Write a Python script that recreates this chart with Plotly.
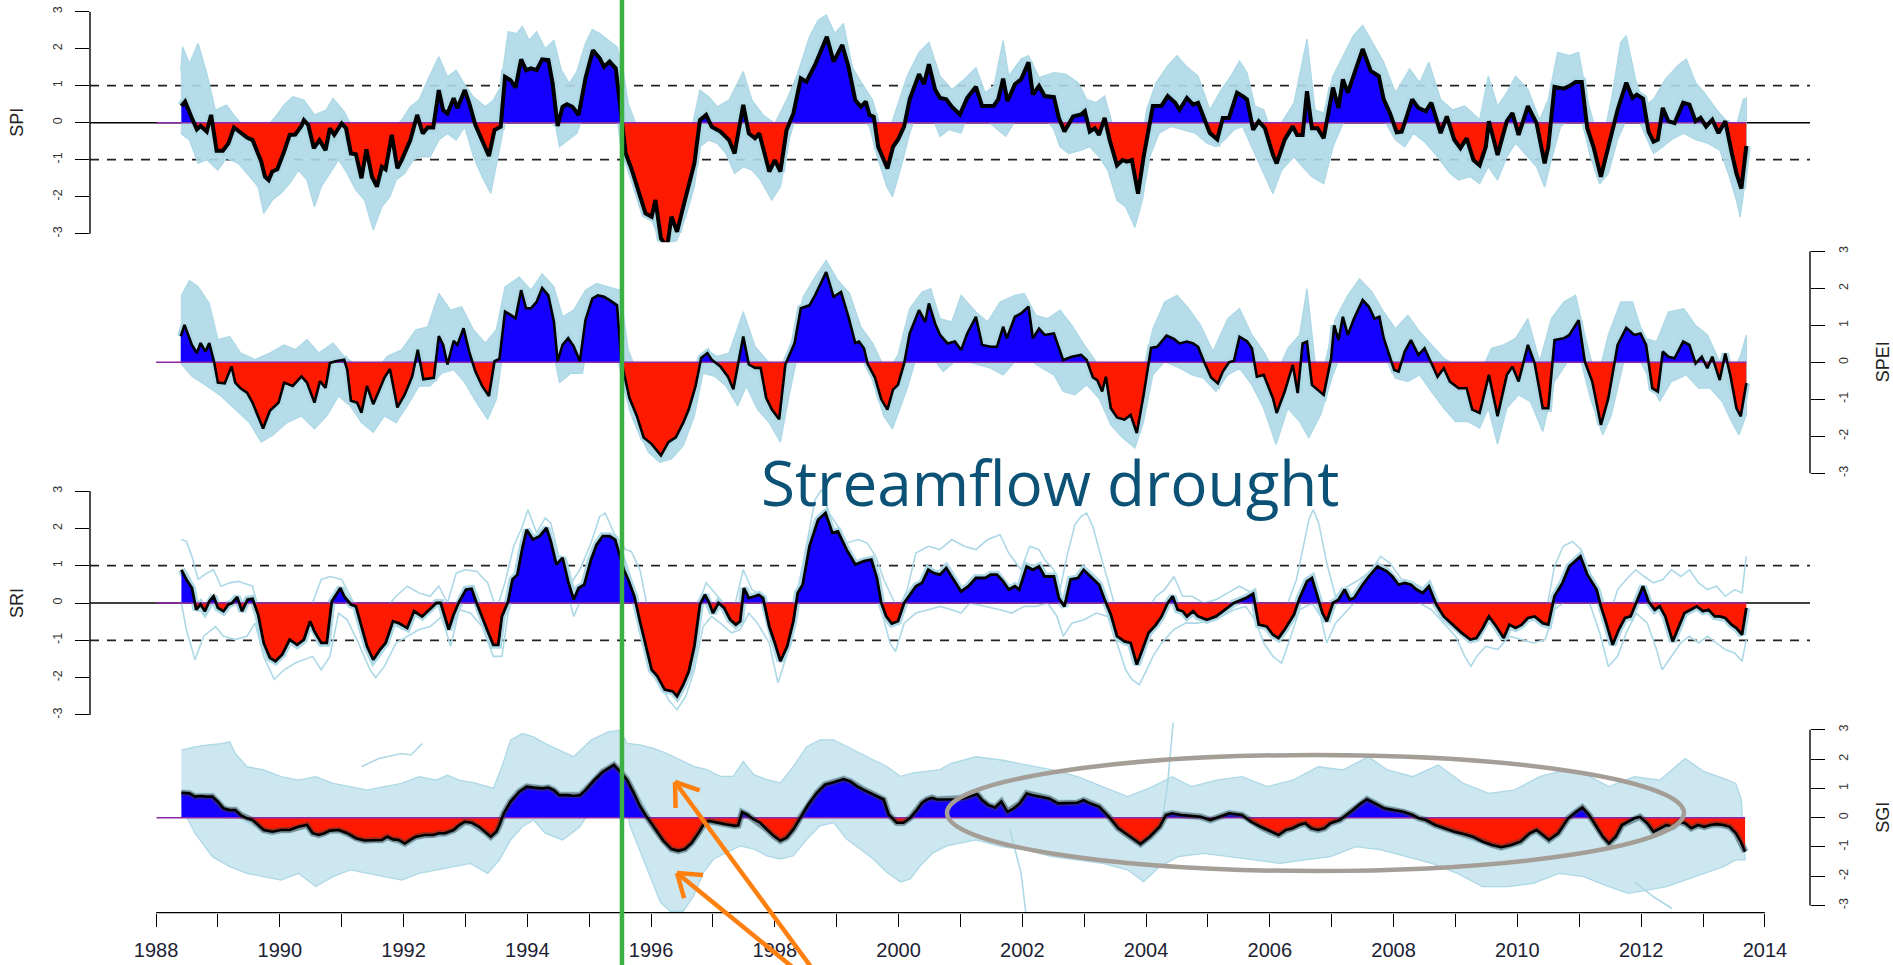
import math
import plotly.graph_objects as go

W, H = 1893, 965

# ---------------- index series (year, value) ----------------
spi = [(1988.41,0.45),(1988.47,0.57),(1988.58,0.12),(1988.66,-0.18),(1988.72,-0.09),(1988.82,-0.24),(1988.89,0.21),(1988.98,-0.76),(1989.08,-0.76),(1989.17,-0.56),
(1989.26,-0.13),(1989.37,-0.27),(1989.47,-0.40),(1989.56,-0.47),(1989.70,-1.05),(1989.76,-1.46),(1989.82,-1.55),(1989.88,-1.32),(1989.96,-1.26),(1990.07,-0.78),
(1990.16,-0.33),(1990.25,-0.32),(1990.35,-0.09),(1990.39,0.07),(1990.46,-0.06),(1990.55,-0.69),(1990.64,-0.47),(1990.74,-0.74),(1990.81,-0.15),(1990.88,-0.33),
(1991.00,-0.02),(1991.07,-0.15),(1991.15,-0.83),(1991.23,-0.85),(1991.32,-1.50),(1991.40,-0.72),(1991.49,-1.46),(1991.57,-1.73),(1991.65,-1.19),(1991.71,-1.26),
(1991.81,-0.33),(1991.90,-1.23),(1991.97,-1.01),(1992.11,-0.47),(1992.22,0.21),(1992.31,-0.29),(1992.39,-0.13),(1992.48,-0.13),(1992.57,0.88),(1992.64,0.34),
(1992.71,0.25),(1992.81,0.66),(1992.87,0.39),(1992.99,0.88),(1993.07,0.48),(1993.16,-0.06),(1993.27,-0.51),(1993.38,-0.90),(1993.47,-0.20),(1993.57,-0.11),
(1993.64,1.24),(1993.73,1.15),(1993.81,0.95),(1993.90,1.71),(1993.98,1.42),(1994.06,1.47),(1994.15,1.42),(1994.24,1.71),(1994.34,1.69),(1994.41,1.06),
(1994.49,-0.09),(1994.57,0.43),(1994.64,0.50),(1994.73,0.43),(1994.83,0.21),(1994.94,1.20),(1995.06,1.96),(1995.17,1.74),(1995.24,1.51),(1995.33,1.65),
(1995.43,1.47),(1995.52,0.03),(1995.59,-0.83),(1995.68,-1.23),(1995.79,-1.82),(1995.91,-2.45),(1996.01,-2.54),(1996.07,-2.09),(1996.16,-3.13),(1996.26,-3.35),
(1996.33,-2.54),(1996.42,-2.95),(1996.52,-2.27),(1996.61,-1.73),(1996.70,-1.10),(1996.79,0.07),(1996.89,0.21),(1996.98,-0.11),(1997.12,-0.24),(1997.26,-0.47),
(1997.35,-0.83),(1997.49,0.48),(1997.58,-0.29),(1997.68,-0.42),(1997.75,-0.29),(1997.91,-1.32),(1998.00,-1.01),(1998.09,-1.32),(1998.19,-0.20),(1998.30,0.25),
(1998.42,1.20),(1998.51,1.11),(1998.65,1.56),(1998.84,2.32),(1998.95,1.65),(1999.09,2.10),(1999.19,1.51),(1999.30,0.61),(1999.39,0.43),(1999.47,0.57),
(1999.53,0.21),(1999.60,0.16),(1999.67,-0.65),(1999.82,-1.24),(1999.91,-0.65),(1999.99,-0.46),(2000.09,-0.10),(2000.18,0.63),(2000.33,1.31),(2000.41,1.04),
(2000.49,1.58),(2000.59,0.90),(2000.67,0.67),(2000.77,0.63),(2000.86,0.43),(2000.99,0.22),(2001.11,0.67),(2001.25,0.97),(2001.35,0.45),(2001.54,0.46),
(2001.61,0.63),(2001.69,1.19),(2001.76,0.58),(2001.88,1.04),(2001.98,1.17),(2002.10,1.63),(2002.17,0.76),(2002.27,0.99),(2002.36,0.72),(2002.51,0.69),
(2002.59,0.13),(2002.68,-0.24),(2002.82,0.17),(2002.95,0.22),(2003.01,0.31),(2003.09,-0.24),(2003.17,-0.15),(2003.24,-0.33),(2003.33,0.13),(2003.41,-0.46),
(2003.53,-1.15),(2003.62,-1.01),(2003.69,-1.05),(2003.77,-1.01),(2003.87,-1.92),(2003.96,-0.92),(2004.11,0.45),(2004.25,0.46),(2004.35,0.72),(2004.47,0.54),
(2004.54,0.35),(2004.66,0.67),(2004.76,0.49),(2004.84,0.54),(2004.93,0.13),(2005.03,-0.28),(2005.15,-0.45),(2005.24,0.13),(2005.34,0.13),(2005.47,0.81),
(2005.56,0.72),(2005.63,0.63),(2005.73,-0.19),(2005.82,0.04),(2005.92,-0.15),(2006.05,-0.87),(2006.11,-1.10),(2006.24,-0.46),(2006.37,-0.10),(2006.44,-0.33),
(2006.53,-0.33),(2006.60,0.85),(2006.68,-0.15),(2006.77,-0.15),(2006.87,-0.42),(2007.02,0.95),(2007.11,0.40),(2007.18,1.17),(2007.26,0.81),(2007.40,1.54),
(2007.50,1.99),(2007.63,1.40),(2007.76,1.26),(2007.84,0.63),(2007.94,0.26),(2008.05,-0.26),(2008.13,-0.24),(2008.23,0.26),(2008.30,0.63),(2008.40,0.40),
(2008.52,0.31),(2008.61,0.54),(2008.69,0.13),(2008.76,-0.28),(2008.86,0.17),(2008.98,-0.46),(2009.08,-0.69),(2009.18,-0.42),(2009.29,-1.01),(2009.39,-1.15),
(2009.49,-0.65),(2009.54,0.04),(2009.68,-0.87),(2009.83,0.04),(2009.92,0.26),(2010.02,-0.33),(2010.17,0.45),(2010.31,-0.01),(2010.44,-1.10),(2010.50,-0.65),
(2010.60,0.97),(2010.75,0.92),(2010.84,0.99),(2010.94,1.10),(2011.04,1.10),(2011.13,-0.15),(2011.23,-0.65),(2011.35,-1.46),(2011.47,-0.65),(2011.62,0.35),
(2011.76,1.08),(2011.86,0.67),(2011.93,0.76),(2012.03,0.65),(2012.12,-0.24),(2012.20,-0.51),(2012.27,-0.46),(2012.35,0.40),(2012.44,0.04),(2012.54,-0.01),
(2012.68,0.54),(2012.78,0.49),(2012.88,0.04),(2012.96,0.13),(2013.05,-0.10),(2013.15,0.08),(2013.25,-0.28),(2013.36,0.04),(2013.46,-0.78),(2013.54,-1.37),
(2013.62,-1.78),(2013.70,-0.63)]

spi_hi = [(1988.40,1.40),(1988.43,2.05),(1988.54,1.60),(1988.68,2.14),(1988.82,1.33),(1988.96,0.34),(1989.14,0.48),(1989.28,0.16),(1989.42,-0.11),(1989.60,-0.24),
(1989.74,-0.20),(1989.93,0.16),(1990.07,0.48),(1990.21,0.70),(1990.39,0.61),(1990.56,0.21),(1990.75,0.34),(1990.86,0.66),(1991.04,0.30),(1991.21,-0.24),
(1991.37,-0.47),(1991.51,-0.56),(1991.65,-0.11),(1991.78,-0.24),(1991.97,0.07),(1992.11,0.43),(1992.25,0.61),(1992.39,1.15),(1992.57,1.78),(1992.71,1.24),
(1992.85,1.42),(1992.99,1.02),(1993.13,0.70),(1993.32,0.43),(1993.45,0.61),(1993.57,0.97),(1993.69,2.46),(1993.83,2.41),(1993.92,2.60),(1994.03,2.23),
(1994.15,2.46),(1994.29,2.00),(1994.43,2.23),(1994.55,1.42),(1994.68,1.06),(1994.80,1.38),(1994.94,2.14),(1995.05,2.52),(1995.17,2.41),(1995.31,2.23),
(1995.45,2.05),(1995.54,1.51),(1995.63,0.52),(1995.77,-0.11),(1995.91,-0.83),(1996.05,-1.37),(1996.24,-2.09),(1996.38,-1.73),(1996.52,-1.00),(1996.65,-0.20),
(1996.79,0.88),(1996.93,0.70),(1997.07,0.43),(1997.26,0.61),(1997.49,1.38),(1997.63,0.61),(1997.81,0.21),(1998.00,-0.02),(1998.19,0.61),(1998.37,1.33),
(1998.56,2.32),(1998.70,2.77),(1998.83,2.91),(1998.97,2.41),(1999.11,2.68),(1999.25,1.51),(1999.39,1.11),(1999.58,0.61),(1999.72,-0.20),(1999.80,-0.46),
(1999.94,0.26),(2000.14,1.26),(2000.33,1.90),(2000.49,2.17),(2000.67,1.26),(2000.86,0.90),(2001.06,1.17),(2001.25,1.49),(2001.40,0.81),(2001.54,0.99),
(2001.69,2.22),(2001.78,1.26),(2001.98,1.72),(2002.10,1.81),(2002.27,1.22),(2002.51,1.35),(2002.70,1.31),(2002.90,1.08),(2003.04,0.63),(2003.19,0.54),
(2003.33,0.72),(2003.48,-0.19),(2003.62,-0.92),(2003.77,-0.83),(2003.89,-0.92),(2004.01,0.35),(2004.16,1.08),(2004.35,1.54),(2004.50,1.81),(2004.64,1.54),
(2004.84,1.26),(2005.03,0.35),(2005.22,0.90),(2005.37,1.26),(2005.51,1.67),(2005.63,1.35),(2005.76,0.45),(2005.90,0.35),(2006.05,-0.37),(2006.19,0.00),
(2006.39,0.54),(2006.60,2.26),(2006.73,0.35),(2006.87,0.26),(2007.02,1.26),(2007.16,1.72),(2007.35,2.35),(2007.50,2.63),(2007.65,2.17),(2007.84,1.63),
(2008.03,0.81),(2008.26,1.45),(2008.42,1.08),(2008.57,1.63),(2008.76,0.63),(2008.95,0.35),(2009.15,0.45),(2009.39,0.08),(2009.53,1.26),(2009.68,0.45),
(2009.83,0.81),(2009.97,1.26),(2010.17,0.90),(2010.36,0.08),(2010.50,0.63),(2010.65,1.90),(2010.84,1.81),(2010.99,1.90),(2011.13,0.63),(2011.28,-0.28),
(2011.38,-0.46),(2011.52,0.63),(2011.67,2.17),(2011.76,2.35),(2011.91,1.17),(2012.05,0.45),(2012.20,0.63),(2012.39,1.17),(2012.59,1.54),(2012.73,1.72),
(2012.88,1.08),(2013.02,0.81),(2013.22,0.35),(2013.36,0.08),(2013.51,-0.28),(2013.65,0.63),(2013.70,0.67)]

spi_lo = [(1988.40,-0.29),(1988.54,-0.47),(1988.68,-1.10),(1988.82,-1.00),(1989.00,-1.28),(1989.14,-0.96),(1989.33,-1.10),(1989.47,-1.37),(1989.65,-1.73),(1989.74,-2.45),
(1989.88,-2.09),(1990.02,-1.91),(1990.16,-1.64),(1990.30,-1.28),(1990.44,-1.55),(1990.56,-2.27),(1990.67,-1.73),(1990.81,-1.37),(1990.95,-1.00),(1991.09,-1.37),
(1991.23,-1.82),(1991.37,-2.09),(1991.51,-2.90),(1991.65,-2.27),(1991.78,-2.00),(1991.88,-1.55),(1992.02,-1.37),(1992.16,-1.00),(1992.29,-0.92),(1992.43,-0.92),
(1992.57,-0.47),(1992.71,-0.29),(1992.85,-0.47),(1992.99,-0.11),(1993.13,-0.92),(1993.27,-1.46),(1993.41,-1.91),(1993.50,-1.19),(1993.59,-0.38),(1993.69,0.61),
(1993.83,0.52),(1993.96,0.88),(1994.10,0.88),(1994.24,0.79),(1994.38,0.61),(1994.52,-0.65),(1994.66,-0.47),(1994.80,-0.29),(1994.94,0.34),(1995.08,0.79),
(1995.22,0.70),(1995.36,0.61),(1995.47,0.30),(1995.53,-0.10),(1995.59,-0.47),(1995.73,-1.19),(1995.87,-1.91),(1996.01,-2.63),(1996.14,-3.17),(1996.28,-3.35),
(1996.42,-3.17),(1996.56,-2.54),(1996.70,-1.73),(1996.79,-0.65),(1996.93,-0.47),(1997.07,-0.56),(1997.21,-0.83),(1997.35,-1.37),(1997.49,-1.19),(1997.63,-1.28),
(1997.77,-1.55),(1997.95,-2.09),(1998.09,-1.73),(1998.23,-0.47),(1998.37,0.34),(1998.51,0.61),(1998.65,0.97),(1998.83,1.51),(1998.97,1.15),(1999.11,1.24),
(1999.25,0.43),(1999.39,0.16),(1999.53,-0.11),(1999.67,-1.00),(1999.81,-1.73),(1999.90,-2.00),(2000.04,-1.19),(2000.18,-0.28),(2000.33,0.45),(2000.52,0.26),
(2000.67,-0.37),(2000.81,-0.19),(2001.01,-0.28),(2001.15,0.35),(2001.35,0.17),(2001.54,-0.10),(2001.73,-0.37),(2001.93,0.17),(2002.12,0.45),(2002.32,0.26),
(2002.51,-0.19),(2002.61,-0.65),(2002.75,-0.83),(2002.95,-0.74),(2003.09,-0.65),(2003.24,-0.92),(2003.38,-1.28),(2003.53,-2.10),(2003.67,-2.28),(2003.82,-2.83),
(2003.94,-2.10),(2004.06,-0.92),(2004.21,-0.28),(2004.40,-0.10),(2004.59,-0.19),(2004.79,-0.28),(2004.98,-0.55),(2005.13,-0.65),(2005.27,-0.46),(2005.42,-0.19),
(2005.56,-0.10),(2005.71,-0.65),(2005.90,-1.37),(2006.05,-1.92),(2006.19,-1.28),(2006.39,-0.92),(2006.53,-1.19),(2006.68,-1.46),(2006.87,-1.65),(2007.02,-0.65),
(2007.16,-0.10),(2007.35,0.45),(2007.50,0.63),(2007.65,0.45),(2007.84,0.08),(2008.03,-0.46),(2008.18,-0.65),(2008.32,-0.28),(2008.52,-0.55),(2008.71,-0.92),
(2008.91,-1.37),(2009.05,-1.55),(2009.24,-1.46),(2009.39,-1.65),(2009.53,-1.19),(2009.68,-1.55),(2009.83,-0.92),(2009.97,-0.55),(2010.17,-0.92),(2010.31,-1.19),
(2010.44,-1.74),(2010.55,-1.00),(2010.70,-0.10),(2010.84,0.08),(2011.03,0.17),(2011.18,-0.92),(2011.33,-1.65),(2011.47,-1.37),(2011.62,-0.46),(2011.76,0.08),
(2011.91,0.26),(2012.05,-0.28),(2012.20,-0.83),(2012.35,-0.65),(2012.49,-0.46),(2012.69,-0.28),(2012.88,-0.46),(2013.07,-0.55),(2013.27,-0.74),(2013.41,-1.37),
(2013.54,-2.10),(2013.60,-2.55),(2013.70,-1.37)]

spei = [(1988.40,0.70),(1988.46,1.01),(1988.58,0.47),(1988.66,0.25),(1988.72,0.52),(1988.80,0.29),(1988.86,0.52),(1988.94,0.00),(1989.00,-0.55),(1989.11,-0.57),
(1989.22,-0.11),(1989.28,-0.55),(1989.37,-0.71),(1989.47,-0.82),(1989.56,-1.09),(1989.65,-1.49),(1989.73,-1.79),(1989.84,-1.31),(1989.98,-1.09),(1990.07,-0.55),
(1990.21,-0.64),(1990.35,-0.38),(1990.44,-0.55),(1990.56,-1.09),(1990.65,-0.51),(1990.74,-0.69),(1990.81,-0.02),(1990.90,0.03),(1991.04,0.07),(1991.09,-0.20),
(1991.15,-1.04),(1991.25,-1.09),(1991.32,-1.36),(1991.41,-0.64),(1991.51,-1.13),(1991.60,-0.78),(1991.69,-0.42),(1991.78,-0.18),(1991.90,-1.22),(1992.02,-0.87),
(1992.14,-0.38),(1992.23,0.34),(1992.32,-0.46),(1992.49,-0.42),(1992.57,0.71),(1992.64,0.47),(1992.71,-0.06),(1992.81,0.58),(1992.87,0.47),(1992.97,0.92),
(1993.06,0.29),(1993.16,-0.24),(1993.27,-0.64),(1993.38,-0.91),(1993.47,0.03),(1993.55,0.09),(1993.64,1.37),(1993.73,1.28),(1993.81,1.19),(1993.90,1.95),
(1993.98,1.46),(1994.06,1.46),(1994.15,1.63),(1994.24,2.01),(1994.34,1.81),(1994.43,1.10),(1994.49,0.03),(1994.57,0.47),(1994.66,0.65),(1994.75,0.43),
(1994.85,0.03),(1994.94,1.14),(1995.05,1.72),(1995.14,1.81),(1995.24,1.77),(1995.33,1.68),(1995.45,1.54),(1995.52,0.03),(1995.65,-0.96),(1995.77,-1.45),
(1995.88,-2.03),(1996.01,-2.21),(1996.16,-2.52),(1996.28,-2.16),(1996.40,-2.03),(1996.52,-1.63),(1996.61,-1.27),(1996.72,-0.64),(1996.81,0.12),(1996.91,0.25),
(1996.98,0.07),(1997.12,-0.11),(1997.24,-0.38),(1997.33,-0.73),(1997.49,0.70),(1997.58,-0.06),(1997.68,-0.15),(1997.77,-0.15),(1997.86,-0.96),(1997.95,-1.27),
(1998.07,-1.54),(1998.17,-0.06),(1998.32,0.52),(1998.42,1.46),(1998.56,1.54),(1998.65,1.81),(1998.83,2.44),(1998.95,1.77),(1999.07,1.90),(1999.19,1.23),
(1999.30,0.52),(1999.36,0.56),(1999.44,0.38),(1999.50,-0.04),(1999.62,-0.42),(1999.72,-1.00),(1999.82,-1.28),(1999.91,-0.74),(1999.99,-0.61),(2000.09,-0.03),
(2000.18,0.78),(2000.33,1.41),(2000.43,1.09),(2000.49,1.59),(2000.59,1.05),(2000.67,0.74),(2000.79,0.51),(2000.91,0.56),(2001.01,0.33),(2001.11,0.78),
(2001.25,1.23),(2001.35,0.47),(2001.49,0.42),(2001.59,0.42),(2001.69,0.96),(2001.75,0.65),(2001.88,1.23),(2001.98,1.32),(2002.10,1.50),(2002.17,0.65),
(2002.27,0.91),(2002.36,0.74),(2002.51,0.78),(2002.66,0.06),(2002.80,0.15),(2002.95,0.20),(2003.04,0.06),(2003.14,-0.41),(2003.21,-0.48),(2003.29,-0.79),
(2003.35,-0.39),(2003.43,-1.24),(2003.53,-1.49),(2003.65,-1.55),(2003.75,-1.42),(2003.85,-1.91),(2003.96,-0.88),(2004.08,0.39),(2004.18,0.42),(2004.33,0.72),
(2004.45,0.63),(2004.54,0.51),(2004.66,0.56),(2004.76,0.51),(2004.84,0.42),(2004.93,0.04),(2005.05,-0.41),(2005.16,-0.57),(2005.24,-0.25),(2005.34,0.00),
(2005.42,0.04),(2005.51,0.69),(2005.63,0.57),(2005.71,0.38),(2005.79,-0.39),(2005.90,-0.34),(2006.05,-0.97),(2006.11,-1.37),(2006.24,-0.79),(2006.37,-0.07),
(2006.45,-0.83),(2006.53,0.51),(2006.60,0.56),(2006.68,-0.61),(2006.87,-0.88),(2006.99,0.11),(2007.04,1.00),(2007.11,0.60),(2007.18,1.23),(2007.26,0.74),
(2007.36,1.18),(2007.50,1.68),(2007.60,1.50),(2007.69,1.18),(2007.77,1.23),(2007.84,0.65),(2007.94,0.15),(2008.01,-0.21),(2008.08,-0.25),(2008.18,0.29),
(2008.28,0.60),(2008.40,0.20),(2008.50,0.38),(2008.61,-0.03),(2008.71,-0.39),(2008.81,-0.16),(2008.91,-0.52),(2009.05,-0.70),(2009.18,-0.70),(2009.27,-1.28),
(2009.39,-1.37),(2009.54,-0.34),(2009.68,-1.46),(2009.83,-0.34),(2009.92,-0.12),(2010.02,-0.52),(2010.17,0.47),(2010.28,-0.03),(2010.41,-1.24),(2010.50,-1.24),
(2010.60,0.60),(2010.75,0.65),(2010.84,0.74),(2010.99,1.14),(2011.09,0.02),(2011.21,-0.52),(2011.35,-1.69),(2011.47,-0.97),(2011.62,0.47),(2011.76,0.93),
(2011.89,0.74),(2011.99,0.78),(2012.08,0.47),(2012.18,-0.70),(2012.27,-0.79),(2012.35,0.29),(2012.44,0.15),(2012.54,0.11),(2012.68,0.56),(2012.78,0.47),
(2012.88,-0.03),(2012.98,0.15),(2013.07,-0.16),(2013.15,0.15),(2013.27,-0.48),(2013.36,0.24),(2013.44,-0.34),(2013.54,-1.24),(2013.61,-1.46),(2013.70,-0.56)]

spei_hi = [(1988.40,1.77),(1988.54,2.21),(1988.68,2.04),(1988.86,1.59),(1989.00,0.61),(1989.19,0.70),(1989.37,0.25),(1989.60,0.07),(1989.84,0.25),(1990.07,0.47),
(1990.25,0.34),(1990.44,0.61),(1990.63,0.25),(1990.86,0.52),(1991.04,0.16),(1991.27,-0.11),(1991.51,-0.29),(1991.74,0.16),(1991.97,0.34),(1992.20,0.88),
(1992.39,0.96),(1992.57,1.86),(1992.76,1.41),(1992.94,1.50),(1993.13,0.88),(1993.32,0.52),(1993.50,0.88),(1993.64,2.04),(1993.87,2.30),(1994.06,1.95),
(1994.24,2.39),(1994.43,2.04),(1994.57,1.23),(1994.75,1.41),(1994.94,1.95),(1995.12,2.13),(1995.31,2.04),(1995.50,1.95),(1995.63,0.34),(1995.82,-0.46),
(1996.01,-1.45),(1996.19,-1.89),(1996.38,-1.71),(1996.56,-1.18),(1996.75,0.07),(1996.89,0.34),(1997.07,0.16),(1997.26,0.25),(1997.49,1.37),(1997.68,0.43),
(1997.91,-0.02),(1998.09,-0.20),(1998.28,0.61),(1998.46,1.77),(1998.65,2.30),(1998.83,2.75),(1999.02,2.21),(1999.21,1.86),(1999.39,0.96),(1999.58,0.52),
(1999.81,-0.29),(1999.99,0.20),(2000.18,1.45),(2000.38,1.90),(2000.52,1.99),(2000.67,1.18),(2000.86,1.09),(2001.01,1.81),(2001.25,1.36),(2001.44,1.09),
(2001.64,1.63),(2001.88,1.81),(2002.03,1.86),(2002.22,1.27),(2002.41,1.18),(2002.61,1.41),(2002.80,1.00),(2003.00,0.47),(2003.19,0.02),(2003.38,-0.34),
(2003.58,-0.88),(2003.77,-1.06),(2003.96,-0.16),(2004.11,0.91),(2004.30,1.63),(2004.50,1.81),(2004.69,1.45),(2004.88,1.00),(2005.08,0.29),(2005.32,1.18),
(2005.51,1.45),(2005.71,0.74),(2005.90,0.29),(2006.10,-0.34),(2006.29,0.38),(2006.48,0.74),(2006.60,1.99),(2006.73,0.02),(2006.87,-0.16),(2007.06,1.18),
(2007.26,1.81),(2007.45,2.26),(2007.65,1.90),(2007.84,1.36),(2008.03,0.91),(2008.23,1.27),(2008.42,0.83),(2008.61,0.47),(2008.81,0.11),(2009.00,-0.07),
(2009.20,-0.16),(2009.39,-0.34),(2009.58,0.38),(2009.78,0.47),(2009.97,0.65),(2010.17,1.18),(2010.36,0.02),(2010.55,1.18),(2010.75,1.63),(2010.94,1.81),
(2011.09,0.74),(2011.28,-0.52),(2011.47,0.74),(2011.67,1.63),(2011.86,1.63),(2012.05,0.65),(2012.25,0.56),(2012.44,1.36),(2012.69,1.45),(2012.88,1.00),
(2013.07,0.74),(2013.27,0.02),(2013.46,-0.34),(2013.61,0.20),(2013.70,0.74)]

spei_lo = [(1988.40,-0.02),(1988.58,-0.38),(1988.82,-0.64),(1989.05,-0.91),(1989.28,-1.27),(1989.51,-1.63),(1989.70,-2.16),(1989.88,-1.98),(1990.12,-1.63),(1990.35,-1.45),
(1990.56,-1.80),(1990.76,-1.45),(1990.95,-0.91),(1991.14,-1.18),(1991.32,-1.63),(1991.51,-1.89),(1991.69,-1.45),(1991.88,-1.63),(1992.06,-1.18),(1992.25,-0.64),
(1992.43,-0.64),(1992.62,-0.29),(1992.81,-0.20),(1992.99,-0.55),(1993.18,-1.09),(1993.36,-1.54),(1993.50,-1.00),(1993.64,0.70),(1993.87,0.79),(1994.10,0.96),
(1994.34,0.96),(1994.52,-0.55),(1994.71,-0.29),(1994.89,-0.30),(1995.00,0.70),(1995.12,1.23),(1995.31,1.14),(1995.47,1.00),(1995.53,-0.20),(1995.65,-1.30),
(1995.77,-1.80),(1995.96,-2.43),(1996.14,-2.70),(1996.33,-2.61),(1996.52,-2.25),(1996.70,-1.45),(1996.84,-0.29),(1997.03,-0.38),(1997.21,-0.64),(1997.40,-1.18),
(1997.54,-0.64),(1997.72,-1.27),(1997.91,-1.63),(1998.09,-2.16),(1998.23,-0.91),(1998.42,0.61),(1998.65,1.14),(1998.83,1.77),(1999.02,1.32),(1999.21,0.88),
(1999.39,0.16),(1999.58,-0.46),(1999.76,-1.45),(1999.90,-1.80),(2000.14,-0.70),(2000.33,0.38),(2000.52,0.20),(2000.72,-0.25),(2000.91,0.02),(2001.10,0.02),
(2001.30,-0.07),(2001.49,-0.16),(2001.69,-0.34),(2001.88,0.02),(2002.07,0.11),(2002.32,-0.16),(2002.51,-0.34),(2002.66,-0.79),(2002.85,-0.88),(2003.04,-0.61),
(2003.24,-0.97),(2003.43,-1.69),(2003.62,-2.04),(2003.82,-2.31),(2003.96,-1.60),(2004.11,-0.34),(2004.30,0.02),(2004.55,-0.16),(2004.74,-0.34),(2004.93,-0.43),
(2005.13,-0.79),(2005.32,-0.34),(2005.51,-0.16),(2005.71,-0.61),(2005.90,-1.24),(2006.10,-2.22),(2006.29,-1.24),(2006.48,-1.60),(2006.63,-2.04),(2006.82,-1.42),
(2007.02,-0.34),(2007.21,0.47),(2007.45,0.91),(2007.65,0.74),(2007.84,0.20),(2008.03,-0.43),(2008.23,-0.52),(2008.42,-0.34),(2008.61,-0.79),(2008.81,-1.24),
(2009.00,-1.60),(2009.20,-1.60),(2009.39,-1.78),(2009.53,-1.24),(2009.68,-2.22),(2009.83,-1.24),(2010.02,-0.88),(2010.21,-1.06),(2010.41,-1.87),(2010.60,-0.52),
(2010.81,0.02),(2011.00,0.20),(2011.18,-0.97),(2011.38,-1.96),(2011.52,-1.42),(2011.72,0.02),(2011.91,0.29),(2012.10,-0.34),(2012.30,-1.06),(2012.49,-0.52),
(2012.73,-0.34),(2012.93,-0.70),(2013.12,-0.70),(2013.31,-1.06),(2013.46,-1.60),(2013.58,-1.96),(2013.70,-1.42)]

sri = [(1988.41,0.89),(1988.49,0.63),(1988.58,0.40),(1988.65,-0.18),(1988.72,-0.04),(1988.79,-0.22),(1988.86,0.04),(1988.93,0.18),(1989.00,-0.13),(1989.09,-0.22),
(1989.17,-0.04),(1989.23,0.00),(1989.31,0.16),(1989.39,-0.22),(1989.48,0.09),(1989.56,0.11),(1989.65,-0.31),(1989.74,-1.07),(1989.84,-1.47),(1989.93,-1.56),
(1990.04,-1.38),(1990.16,-0.98),(1990.28,-1.12),(1990.39,-0.98),(1990.49,-0.49),(1990.56,-0.76),(1990.67,-1.07),(1990.76,-1.07),(1990.84,0.04),(1990.90,0.18),
(1990.98,0.40),(1991.04,0.18),(1991.15,-0.04),(1991.23,-0.09),(1991.34,-0.71),(1991.41,-1.16),(1991.51,-1.52),(1991.62,-1.25),(1991.71,-1.07),(1991.83,-0.49),
(1991.92,-0.54),(1992.06,-0.67),(1992.17,-0.22),(1992.30,-0.36),(1992.39,-0.22),(1992.53,0.00),(1992.60,0.00),(1992.67,-0.40),(1992.73,-0.71),(1992.81,-0.31),
(1992.90,0.04),(1993.01,0.36),(1993.10,0.38),(1993.18,0.00),(1993.27,-0.40),(1993.36,-0.76),(1993.45,-1.12),(1993.53,-1.12),(1993.59,-0.36),(1993.69,0.04),
(1993.76,0.63),(1993.84,0.76),(1993.92,1.47),(1993.99,1.96),(1994.09,1.70),(1994.20,1.79),(1994.31,2.01),(1994.38,1.65),(1994.47,1.03),(1994.57,1.21),
(1994.66,0.58),(1994.75,0.09),(1994.83,0.40),(1994.92,0.49),(1995.03,1.16),(1995.12,1.56),(1995.22,1.79),(1995.33,1.79),(1995.42,1.70),(1995.50,1.25),
(1995.56,0.89),(1995.63,0.63),(1995.73,0.18),(1995.82,-0.49),(1995.91,-1.12),(1996.01,-1.79),(1996.10,-1.96),(1996.22,-2.32),(1996.35,-2.37),(1996.42,-2.50),
(1996.52,-2.19),(1996.61,-1.83),(1996.70,-1.16),(1996.79,-0.04),(1996.87,0.22),(1996.93,0.04),(1997.00,-0.27),(1997.09,0.00),(1997.18,-0.13),(1997.28,-0.45),
(1997.37,-0.58),(1997.44,-0.49),(1997.50,0.40),(1997.58,0.13),(1997.68,0.18),(1997.74,0.22),(1997.81,0.13),(1997.91,-0.63),(1998.00,-1.07),(1998.09,-1.56),
(1998.20,-1.16),(1998.30,-0.49),(1998.37,0.27),(1998.45,0.49),(1998.56,1.52),(1998.70,2.23),(1998.82,2.41),(1998.93,1.88),(1999.02,1.92),(1999.16,1.43),
(1999.30,1.03),(1999.44,1.12),(1999.56,1.16),(1999.65,0.67),(1999.72,0.00),(1999.80,-0.36),(1999.89,-0.55),(1999.99,-0.49),(2000.09,0.00),(2000.17,0.18),
(2000.28,0.45),(2000.38,0.54),(2000.48,0.89),(2000.57,0.80),(2000.67,0.76),(2000.77,0.94),(2000.86,0.71),(2001.01,0.31),(2001.13,0.45),(2001.25,0.67),
(2001.40,0.67),(2001.49,0.76),(2001.59,0.76),(2001.69,0.58),(2001.78,0.36),(2001.88,0.45),(2001.95,0.36),(2002.07,0.98),(2002.17,0.89),(2002.27,0.98),
(2002.36,0.71),(2002.51,0.71),(2002.59,0.13),(2002.68,-0.09),(2002.78,0.63),(2002.90,0.67),(2002.99,0.89),(2003.11,0.71),(2003.24,0.49),(2003.33,0.09),
(2003.43,-0.31),(2003.53,-0.89),(2003.65,-1.03),(2003.75,-1.07),(2003.85,-1.65),(2003.94,-1.25),(2004.04,-0.80),(2004.16,-0.58),(2004.25,-0.36),(2004.35,0.00),
(2004.43,0.18),(2004.51,-0.18),(2004.59,-0.22),(2004.66,-0.36),(2004.76,-0.22),(2004.84,-0.36),(2004.98,-0.45),(2005.13,-0.36),(2005.27,-0.18),(2005.42,0.00),
(2005.61,0.13),(2005.73,0.25),(2005.82,-0.58),(2005.95,-0.63),(2006.05,-0.85),(2006.14,-0.94),(2006.24,-0.71),(2006.39,-0.31),(2006.48,0.13),(2006.60,0.58),
(2006.68,0.67),(2006.75,0.27),(2006.85,-0.27),(2006.92,-0.49),(2007.02,0.00),(2007.11,0.09),(2007.21,0.36),(2007.29,0.09),(2007.36,0.13),(2007.50,0.49),
(2007.60,0.71),(2007.74,0.98),(2007.89,0.85),(2007.98,0.71),(2008.08,0.49),(2008.18,0.54),(2008.28,0.49),(2008.37,0.36),(2008.47,0.27),(2008.57,0.45),
(2008.69,-0.04),(2008.81,-0.36),(2008.95,-0.58),(2009.10,-0.80),(2009.24,-0.98),(2009.34,-0.94),(2009.44,-0.67),(2009.54,-0.36),(2009.66,-0.63),(2009.78,-0.94),
(2009.87,-0.58),(2009.97,-0.67),(2010.07,-0.58),(2010.17,-0.40),(2010.28,-0.36),(2010.41,-0.54),(2010.50,-0.58),(2010.60,0.18),(2010.73,0.54),(2010.84,0.98),
(2011.02,1.25),(2011.13,0.76),(2011.28,0.36),(2011.35,-0.09),(2011.42,-0.45),(2011.54,-1.12),(2011.64,-0.71),(2011.74,-0.40),(2011.83,-0.36),(2011.93,0.04),
(2012.03,0.45),(2012.12,0.04),(2012.22,-0.18),(2012.30,-0.09),(2012.39,-0.36),(2012.51,-1.03),(2012.61,-0.63),(2012.70,-0.27),(2012.80,-0.18),(2012.90,-0.09),
(2013.00,-0.22),(2013.09,-0.18),(2013.19,-0.36),(2013.27,-0.36),(2013.36,-0.40),(2013.46,-0.58),(2013.54,-0.67),(2013.63,-0.85),(2013.70,-0.13)]

sri_hi = [(1988.41,1.70),(1988.49,1.65),(1988.58,1.25),(1988.68,0.63),(1988.82,0.80),(1988.93,0.89),(1989.05,0.45),(1989.19,0.54),(1989.33,0.58),(1989.47,0.49),
(1989.56,0.45),(1989.70,-0.54),(1989.84,-0.89),(1990.02,-1.07),(1990.16,-0.71),(1990.30,-0.36),(1990.49,-0.18),(1990.67,0.63),(1990.81,0.71),(1991.00,0.63),
(1991.14,0.18),(1991.27,-0.27),(1991.41,-0.71),(1991.55,-0.36),(1991.69,-0.18),(1991.88,0.18),(1992.06,0.45),(1992.25,0.27),(1992.43,0.18),(1992.57,0.45),
(1992.71,0.00),(1992.85,0.80),(1992.99,0.89),(1993.18,0.85),(1993.36,0.54),(1993.50,-0.18),(1993.64,0.54),(1993.78,1.52),(1993.92,2.05),(1994.01,2.50),
(1994.15,1.88),(1994.29,2.28),(1994.38,2.14),(1994.52,1.16),(1994.71,0.54),(1994.85,0.89),(1995.03,1.61),(1995.17,2.32),(1995.26,2.41),(1995.40,1.88),
(1995.59,1.43),(1995.68,1.38),(1995.82,0.89),(1995.96,-0.27),(1996.10,-1.07),(1996.28,-1.52),(1996.47,-1.61),(1996.61,-1.16),(1996.75,-0.09),(1996.89,0.54),
(1997.03,0.27),(1997.17,0.00),(1997.35,-0.09),(1997.49,0.89),(1997.63,0.36),(1997.81,0.18),(1997.95,-0.54),(1998.09,-0.89),(1998.23,-0.36),(1998.37,0.36),
(1998.51,1.52),(1998.65,2.77),(1998.76,3.04),(1998.88,2.41),(1999.02,2.05),(1999.16,1.61),(1999.35,1.70),(1999.49,1.61),(1999.63,1.25),(1999.76,0.63),
(1999.99,-0.18),(2000.14,0.36),(2000.28,1.34),(2000.48,1.52),(2000.67,1.43),(2000.86,1.70),(2001.06,1.52),(2001.25,1.43),(2001.44,1.70),(2001.64,1.83),
(2001.78,1.34),(2001.98,0.89),(2002.12,1.52),(2002.27,1.43),(2002.36,1.16),(2002.51,0.89),(2002.61,0.36),(2002.72,1.25),(2002.85,2.10),(2002.95,2.32),
(2003.04,2.41),(2003.14,2.05),(2003.24,1.43),(2003.38,0.63),(2003.53,-0.27),(2003.67,-0.63),(2003.82,-0.71),(2003.96,-0.36),(2004.16,0.18),(2004.30,0.36),
(2004.45,0.71),(2004.59,0.18),(2004.74,0.18),(2004.93,0.00),(2005.13,0.09),(2005.32,0.27),(2005.51,0.45),(2005.71,0.27),(2005.85,-0.09),(2006.00,-0.27),
(2006.14,-0.54),(2006.29,0.00),(2006.43,0.63),(2006.53,1.43),(2006.63,2.23),(2006.70,2.50),(2006.79,2.14),(2006.92,1.07),(2007.06,0.18),(2007.26,0.45),
(2007.45,0.63),(2007.65,0.89),(2007.79,1.25),(2007.94,1.07),(2008.13,0.63),(2008.32,0.54),(2008.52,0.36),(2008.71,0.00),(2008.91,-0.36),(2009.10,-0.63),
(2009.29,-0.63),(2009.49,-0.45),(2009.68,-0.54),(2009.87,-0.71),(2010.06,-0.54),(2010.26,-0.45),(2010.45,-0.36),(2010.60,0.98),(2010.74,1.52),(2010.89,1.65),
(2011.03,1.43),(2011.18,0.71),(2011.33,-0.09),(2011.47,-0.45),(2011.62,0.36),(2011.76,0.63),(2011.91,0.89),(2012.05,0.71),(2012.20,0.54),(2012.35,0.63),
(2012.49,0.89),(2012.64,0.71),(2012.78,0.89),(2012.93,0.54),(2013.07,0.36),(2013.22,0.45),(2013.36,0.18),(2013.51,0.36),(2013.63,0.27),(2013.70,1.25)]

sri_lo = [(1988.41,0.00),(1988.49,-0.71),(1988.63,-1.52),(1988.77,-0.89),(1988.96,-0.63),(1989.09,-0.89),(1989.28,-0.98),(1989.47,-0.89),(1989.60,-0.54),(1989.74,-1.43),
(1989.91,-2.05),(1990.07,-1.79),(1990.25,-1.61),(1990.39,-1.52),(1990.53,-1.43),(1990.67,-1.79),(1990.81,-1.43),(1990.95,-0.27),(1991.09,-0.45),(1991.27,-1.07),
(1991.46,-1.79),(1991.55,-2.00),(1991.69,-1.70),(1991.88,-1.07),(1992.06,-0.89),(1992.25,-0.71),(1992.43,-0.63),(1992.62,-0.36),(1992.76,-1.16),(1992.90,-0.18),
(1993.08,-0.27),(1993.27,-0.63),(1993.45,-1.43),(1993.59,-1.43),(1993.69,-0.27),(1993.83,0.54),(1993.96,1.70),(1994.10,1.61),(1994.29,1.88),(1994.43,1.25),
(1994.61,0.54),(1994.75,-0.36),(1994.89,0.18),(1995.08,1.07),(1995.26,1.34),(1995.45,1.34),(1995.59,0.89),(1995.68,0.36),(1995.82,-0.71),(1995.96,-1.43),
(1996.10,-1.96),(1996.28,-2.59),(1996.42,-2.86),(1996.56,-2.50),(1996.70,-1.79),(1996.84,-0.63),(1996.98,-0.36),(1997.12,-0.54),(1997.30,-0.80),(1997.44,-0.71),
(1997.58,-0.27),(1997.72,-0.54),(1997.91,-1.07),(1998.05,-2.14),(1998.19,-1.43),(1998.33,-0.36),(1998.46,0.36),(1998.65,1.34),(1998.84,2.05),(1999.02,1.52),
(1999.21,1.07),(1999.39,0.89),(1999.58,0.89),(1999.72,-0.18),(1999.86,-1.07),(1999.95,-1.30),(2000.09,-0.54),(2000.28,-0.27),(2000.48,-0.18),(2000.67,-0.09),
(2000.86,-0.18),(2001.01,-0.27),(2001.15,0.00),(2001.40,-0.09),(2001.64,-0.18),(2001.83,-0.27),(2002.03,-0.09),(2002.22,-0.09),(2002.41,0.00),(2002.56,-0.36),
(2002.66,-0.89),(2002.80,-0.54),(2003.00,-0.45),(2003.19,-0.27),(2003.38,-0.36),(2003.53,-1.07),(2003.67,-1.79),(2003.77,-2.05),(2003.89,-2.19),(2004.01,-1.79),
(2004.11,-1.43),(2004.25,-1.07),(2004.45,-0.71),(2004.64,-0.54),(2004.84,-0.54),(2005.03,-0.45),(2005.22,-0.36),(2005.42,-0.18),(2005.61,-0.09),(2005.76,-0.45),
(2005.90,-1.07),(2006.05,-1.43),(2006.19,-1.61),(2006.34,-0.89),(2006.48,-0.18),(2006.68,0.00),(2006.82,-0.36),(2006.92,-1.07),(2007.06,-0.54),(2007.26,-0.18),
(2007.45,0.18),(2007.65,0.54),(2007.84,0.63),(2008.03,0.36),(2008.23,0.18),(2008.42,0.00),(2008.61,-0.18),(2008.81,-0.54),(2009.00,-0.89),(2009.15,-1.43),
(2009.25,-1.70),(2009.34,-1.43),(2009.49,-1.16),(2009.68,-1.25),(2009.87,-0.89),(2010.06,-0.98),(2010.26,-1.07),(2010.45,-0.98),(2010.60,-0.18),(2010.74,0.00),
(2010.94,0.36),(2011.13,0.18),(2011.33,-0.80),(2011.47,-1.70),(2011.62,-1.43),(2011.76,-0.80),(2011.92,-0.27),(2012.10,-0.54),(2012.25,-1.25),(2012.34,-1.79),
(2012.49,-1.43),(2012.64,-1.07),(2012.78,-0.89),(2012.93,-1.07),(2013.07,-0.89),(2013.22,-1.07),(2013.36,-1.25),(2013.51,-1.34),(2013.63,-1.56),(2013.70,-0.98)]

sgi = [(1988.41,0.85),(1988.54,0.83),(1988.63,0.72),(1988.72,0.74),(1988.80,0.72),(1988.91,0.72),(1989.00,0.55),(1989.09,0.32),(1989.19,0.26),(1989.28,0.26),
(1989.37,0.09),(1989.47,-0.02),(1989.56,-0.08),(1989.65,-0.25),(1989.74,-0.42),(1989.88,-0.48),(1990.02,-0.42),(1990.16,-0.42),(1990.30,-0.31),(1990.44,-0.25),
(1990.53,-0.53),(1990.63,-0.59),(1990.72,-0.53),(1990.81,-0.44),(1990.95,-0.42),(1991.09,-0.53),(1991.23,-0.70),(1991.37,-0.78),(1991.51,-0.76),(1991.65,-0.76),
(1991.74,-0.65),(1991.83,-0.74),(1991.92,-0.76),(1992.02,-0.88),(1992.11,-0.76),(1992.20,-0.65),(1992.34,-0.59),(1992.48,-0.59),(1992.57,-0.53),(1992.67,-0.53),
(1992.81,-0.42),(1992.90,-0.25),(1992.99,-0.14),(1993.10,-0.17),(1993.22,-0.31),(1993.32,-0.48),(1993.41,-0.65),(1993.50,-0.48),(1993.55,-0.25),(1993.62,0.15),
(1993.73,0.55),(1993.87,0.89),(1993.99,1.06),(1994.10,1.03),(1994.24,1.00),(1994.34,1.03),(1994.43,0.94),(1994.52,0.77),(1994.66,0.77),(1994.75,0.74),
(1994.85,0.77),(1994.94,0.94),(1995.08,1.28),(1995.22,1.57),(1995.31,1.68),(1995.40,1.80),(1995.50,1.58),(1995.61,1.30),(1995.72,0.85),(1995.82,0.40),
(1995.93,0.03),(1996.07,-0.40),(1996.20,-0.79),(1996.33,-1.07),(1996.44,-1.13),(1996.55,-1.07),(1996.66,-0.85),(1996.77,-0.51),(1996.85,-0.23),(1996.93,-0.11),
(1997.06,-0.17),(1997.22,-0.23),(1997.36,-0.28),(1997.41,-0.26),(1997.47,0.19),(1997.55,0.11),(1997.66,-0.06),(1997.76,-0.17),(1997.87,-0.40),(1997.98,-0.62),
(1998.09,-0.79),(1998.19,-0.68),(1998.30,-0.40),(1998.41,0.00),(1998.54,0.45),(1998.68,0.85),(1998.81,1.13),(1998.95,1.21),(1999.11,1.32),(1999.22,1.24),
(1999.33,1.07),(1999.43,0.96),(1999.54,0.85),(1999.65,0.73),(1999.76,0.62),(1999.84,0.11),(1999.97,-0.17),(2000.08,-0.17),(2000.19,0.00),(2000.30,0.28),
(2000.38,0.51),(2000.46,0.62),(2000.54,0.68),(2000.62,0.62),(2000.78,0.62),(2000.94,0.63),(2001.04,0.66),(2001.15,0.72),(2001.27,0.81),(2001.35,0.60),
(2001.45,0.43),(2001.56,0.35),(2001.66,0.55),(2001.76,0.20),(2001.86,0.32),(2001.96,0.49),(2002.07,0.83),(2002.17,0.77),(2002.27,0.72),(2002.43,0.66),
(2002.58,0.49),(2002.73,0.51),(2002.89,0.51),(2002.99,0.60),(2003.09,0.49),(2003.24,0.38),(2003.40,0.03),(2003.55,-0.36),(2003.70,-0.59),(2003.91,-0.90),
(2004.06,-0.65),(2004.22,-0.31),(2004.32,0.09),(2004.42,0.15),(2004.57,0.09),(2004.73,0.06),(2004.88,0.03),(2005.04,-0.08),(2005.19,0.03),(2005.34,0.15),
(2005.55,0.09),(2005.70,-0.14),(2005.85,-0.31),(2006.01,-0.48),(2006.14,-0.59),(2006.26,-0.42),(2006.37,-0.36),(2006.47,-0.25),(2006.57,-0.19),(2006.67,-0.36),
(2006.78,-0.42),(2006.88,-0.36),(2006.98,-0.19),(2007.13,-0.08),(2007.24,0.09),(2007.34,0.26),(2007.47,0.49),(2007.57,0.63),(2007.70,0.49),(2007.85,0.32),
(2008.00,0.26),(2008.16,0.20),(2008.31,0.09),(2008.41,-0.02),(2008.52,-0.08),(2008.67,-0.25),(2008.82,-0.36),(2008.98,-0.48),(2009.13,-0.56),(2009.28,-0.65),
(2009.44,-0.82),(2009.59,-0.93),(2009.74,-1.01),(2009.90,-0.93),(2010.05,-0.82),(2010.20,-0.53),(2010.31,-0.42),(2010.41,-0.59),(2010.51,-0.76),(2010.66,-0.53),
(2010.82,-0.02),(2010.95,0.20),(2011.05,0.35),(2011.16,0.09),(2011.26,-0.25),(2011.38,-0.65),(2011.48,-0.88),(2011.59,-0.65),(2011.69,-0.25),(2011.79,-0.14),
(2011.89,-0.02),(2011.98,0.03),(2012.10,-0.19),(2012.20,-0.48),(2012.30,-0.36),(2012.41,-0.25),(2012.51,-0.31),(2012.61,-0.14),(2012.71,-0.19),(2012.81,-0.36),
(2012.92,-0.25),(2013.02,-0.31),(2013.12,-0.25),(2013.22,-0.22),(2013.33,-0.25),(2013.43,-0.31),(2013.53,-0.53),(2013.61,-0.82),(2013.68,-1.16)]

sgi_hi = [(1988.41,2.31),(1988.63,2.42),(1988.82,2.48),(1989.05,2.53),(1989.19,2.59),(1989.28,2.19),(1989.47,1.74),(1989.74,1.63),(1990.02,1.40),(1990.30,1.28),
(1990.58,1.40),(1990.86,1.17),(1991.14,1.06),(1991.41,0.94),(1991.69,1.06),(1991.97,1.17),(1992.25,1.40),(1992.53,1.28),(1992.71,1.45),(1992.90,1.28),
(1993.18,1.17),(1993.45,1.00),(1993.59,1.74),(1993.73,2.65),(1993.92,2.88),(1994.10,2.76),(1994.29,2.53),(1994.52,2.31),(1994.75,2.08),(1995.03,2.65),
(1995.31,2.93),(1995.50,2.99),(1995.61,2.54),(1995.82,2.49),(1996.04,2.37),(1996.25,2.20),(1996.47,1.98),(1996.69,1.75),(1996.90,1.64),(1997.12,1.41),
(1997.33,1.41),(1997.49,1.92),(1997.66,1.47),(1997.87,1.30),(1998.09,1.19),(1998.30,1.75),(1998.52,2.43),(1998.73,2.66),(1998.95,2.66),(1999.16,2.43),
(1999.38,2.20),(1999.59,1.98),(1999.81,1.75),(2000.03,1.41),(2000.24,1.53),(2000.46,1.58),(2000.67,1.64),(2000.84,1.85),(2001.25,2.08),(2001.66,1.97),
(2002.07,1.80),(2002.48,1.63),(2002.89,1.40),(2003.30,1.06),(2003.70,0.72),(2004.11,1.06),(2004.42,1.40),(2004.73,1.06),(2005.14,1.28),(2005.55,1.40),
(2005.96,1.06),(2006.37,1.28),(2006.78,1.74),(2007.18,1.63),(2007.59,2.08),(2007.90,1.63),(2008.31,1.40),(2008.72,1.80),(2009.13,1.17),(2009.54,0.83),
(2009.95,0.94),(2010.36,1.40),(2010.77,1.63),(2011.07,1.51),(2011.48,1.06),(2011.89,1.40),(2012.30,1.28),(2012.71,2.02),(2013.02,1.57),(2013.33,1.34),
(2013.53,1.17),(2013.62,0.60)]

sgi_lo = [(1988.41,0.38),(1988.63,-0.53),(1988.91,-1.33),(1989.19,-1.67),(1989.47,-1.90),(1989.74,-2.01),(1990.02,-2.13),(1990.30,-1.90),(1990.58,-2.35),(1990.86,-2.01),
(1991.14,-1.78),(1991.41,-1.90),(1991.69,-2.01),(1991.97,-2.13),(1992.25,-1.90),(1992.53,-1.78),(1992.81,-1.67),(1993.08,-1.56),(1993.36,-1.90),(1993.55,-1.44),
(1993.73,-0.76),(1993.92,-0.31),(1994.10,-0.08),(1994.29,-0.53),(1994.57,-0.76),(1994.85,-0.31),(1995.12,0.60),(1995.40,0.94),(1995.55,1.00),(1995.66,-0.28),
(1995.82,-1.19),(1996.00,-2.09),(1996.15,-2.88),(1996.31,-3.20),(1996.52,-3.20),(1996.69,-2.66),(1996.85,-1.86),(1997.01,-1.41),(1997.22,-1.19),(1997.44,-0.96),
(1997.66,-1.07),(1997.87,-1.30),(1998.09,-1.41),(1998.30,-1.30),(1998.52,-0.73),(1998.73,-0.28),(1998.95,-0.17),(1999.16,-0.73),(1999.38,-1.07),(1999.59,-1.41),
(1999.81,-1.86),(2000.03,-2.20),(2000.19,-2.09),(2000.35,-1.64),(2000.56,-1.19),(2000.78,-0.96),(2001.25,-0.76),(2001.66,-0.99),(2002.07,-1.10),(2002.48,-1.33),
(2002.89,-1.44),(2003.30,-1.56),(2003.70,-1.78),(2003.96,-2.18),(2004.22,-1.67),(2004.52,-1.33),(2004.93,-1.22),(2005.34,-1.33),(2005.75,-1.44),(2006.16,-1.56),
(2006.57,-1.44),(2006.98,-1.33),(2007.39,-0.99),(2007.80,-1.10),(2008.21,-1.33),(2008.62,-1.56),(2009.03,-1.90),(2009.44,-2.35),(2009.85,-2.35),(2010.26,-2.24),
(2010.67,-1.90),(2011.07,-2.01),(2011.48,-2.35),(2011.79,-2.58),(2012.10,-2.47),(2012.41,-2.35),(2012.71,-2.13),(2013.02,-1.90),(2013.33,-1.67),(2013.53,-1.44),
(2013.68,-1.44)]

# a few stray SGI ensemble members that leave the main envelope
sgi_stray_a = [(1991.32,1.74),(1991.60,2.02),(1991.97,2.19),(1992.12,2.14),(1992.30,2.53)]
sgi_stray_b = [(2004.25,-0.30),(2004.35,1.20),(2004.44,3.30)]
sgi_stray_c = [(2001.80,-0.40),(2001.98,-1.90),(2002.06,-3.30)]
sgi_stray_d = [(2011.90,-2.20),(2012.20,-2.70),(2012.50,-3.10)]

year_ticks = list(range(1988, 2015))
year_labels = [str(y) if y % 2 == 0 else "" for y in year_ticks]
index_ticks = [-3, -2, -1, 0, 1, 2, 3]
index_labels = [str(v) for v in index_ticks]
threshold = 1.0
event_year = 1995.53

BLUE = "#1400ff"
RED = "#fd1a00"
LIGHT = "#add8e6"
PURPLE = "rgb(140,40,170)"
TEAL = "#0c5276"


def xs(pts):
    return [p[0] for p in pts]


def ys(pts):
    return [p[1] for p in pts]


def split_sign(pts):
    """Positive and negative parts of a series, with the zero crossings added."""
    pt, pv, nt, nv = [], [], [], []
    for i, (t, v) in enumerate(pts):
        if i > 0:
            t0, v0 = pts[i - 1]
            if v0 * v < 0:
                tc = t0 + (t - t0) * v0 / (v0 - v)
                pt.append(tc); pv.append(0.0); nt.append(tc); nv.append(0.0)
        pt.append(t); pv.append(max(v, 0.0))
        nt.append(t); nv.append(min(v, 0.0))
    return pt, pv, nt, nv


fig = go.Figure()

panels = [
    dict(ax="y", label="SPI", main=spi, hi=spi_hi, lo=spi_lo, band=0.9, lw=4.0, side="left", px=(2.8, 242.6)),
    dict(ax="y2", label="SPEI", main=spei, hi=spei_hi, lo=spei_lo, band=0.9, lw=2.6, side="right", px=(242.4, 482.2)),
    dict(ax="y3", label="SRI", main=sri, hi=sri_hi, lo=sri_lo, band=None, lw=2.8, side="left", px=(482.1, 723.9)),
    dict(ax="y4", label="SGI", main=sgi, hi=sgi_hi, lo=sgi_lo, band=0.62, lw=2.6, side="right", px=(722.8, 912.6)),
]

shapes = []
annotations = []
layout_axes = {}

for p in panels:
    ax = p["ax"]
    # ensemble spread
    if p["band"] is not None:
        fig.add_trace(go.Scatter(
            x=xs(p["hi"]) + xs(p["lo"])[::-1], y=ys(p["hi"]) + ys(p["lo"])[::-1],
            xaxis="x", yaxis=ax, mode="lines", fill="toself",
            fillcolor="rgba(173,216,230,%.2f)" % p["band"],
            line=dict(color=LIGHT, width=1.3), hoverinfo="skip", showlegend=False))
    else:
        for member in (p["hi"], p["lo"]):
            fig.add_trace(go.Scatter(x=xs(member), y=ys(member), xaxis="x", yaxis=ax,
                                     mode="lines", line=dict(color=LIGHT, width=1.6),
                                     hoverinfo="skip", showlegend=False))
    if p["label"] == "SGI":
        for member in (sgi_stray_a, sgi_stray_b, sgi_stray_c, sgi_stray_d):
            fig.add_trace(go.Scatter(x=xs(member), y=ys(member), xaxis="x", yaxis=ax,
                                     mode="lines", line=dict(color=LIGHT, width=1.6),
                                     hoverinfo="skip", showlegend=False))
    # light halo of the members closest to the median
    fig.add_trace(go.Scatter(x=xs(p["main"]), y=ys(p["main"]), xaxis="x", yaxis=ax,
                             mode="lines", line=dict(color=LIGHT, width=p["lw"] + 5),
                             hoverinfo="skip", showlegend=False))
    # wet / dry shading
    pt, pv, nt, nv = split_sign(p["main"])
    fig.add_trace(go.Scatter(x=pt, y=pv, xaxis="x", yaxis=ax, mode="lines", fill="tozeroy",
                             fillcolor=BLUE, line=dict(width=0, color=BLUE),
                             hoverinfo="skip", showlegend=False))
    fig.add_trace(go.Scatter(x=nt, y=nv, xaxis="x", yaxis=ax, mode="lines", fill="tozeroy",
                             fillcolor=RED, line=dict(width=0, color=RED),
                             hoverinfo="skip", showlegend=False))
    t_first, t_last = p["main"][0][0], p["main"][-1][0]
    fig.add_trace(go.Scatter(x=[t_first - 0.4, t_last], y=[0, 0], xaxis="x", yaxis=ax,
                             mode="lines", line=dict(color=PURPLE, width=1.6),
                             hoverinfo="skip", showlegend=False))
    if p["label"] == "SGI":
        fig.add_trace(go.Scatter(x=xs(p["main"]), y=ys(p["main"]), xaxis="x", yaxis=ax,
                                 mode="lines", line=dict(color="rgba(60,60,60,0.45)", width=6),
                                 hoverinfo="skip", showlegend=False))
    fig.add_trace(go.Scatter(x=xs(p["main"]), y=ys(p["main"]), xaxis="x", yaxis=ax,
                             mode="lines", line=dict(color="black", width=p["lw"]),
                             hoverinfo="skip", showlegend=False))

    # reference lines
    shapes.append(dict(type="line", xref="x domain", x0=0, x1=1, yref=ax, y0=0, y1=0,
                       line=dict(color="black", width=1.4), layer="below"))
    for lvl in (threshold, -threshold):
        shapes.append(dict(type="line", xref="x domain", x0=0, x1=1, yref=ax, y0=lvl, y1=lvl,
                           line=dict(color="#222", width=1.8, dash="9px,8px"), layer="below"))
    edge = 0 if p["side"] == "left" else 1
    shapes.append(dict(type="line", xref="x domain", x0=edge, x1=edge, yref=ax,
                       y0=index_ticks[0], y1=index_ticks[-1],
                       line=dict(color="black", width=1.4), layer="above"))

    key = "yaxis" if ax == "y" else "yaxis" + ax[1:]
    layout_axes[key] = dict(
        domain=[1 - p["px"][1] / H, 1 - p["px"][0] / H], range=[-3.24, 3.24],
        anchor="x", side=p["side"], tickvals=index_ticks, ticktext=index_labels,
        ticks="outside", ticklen=14, tickwidth=1.4, tickcolor="black", tickangle=-90,
        ticklabelstandoff=8,
        tickfont=dict(family="Liberation Sans", size=12.5, color="#333"),
        showgrid=False, zeroline=False, showline=False, fixedrange=True)

    lab_x = 17 if p["side"] == "left" else 1883
    mid = (p["px"][0] + p["px"][1]) / 2
    annotations.append(dict(text=p["label"], xref="paper", yref="paper", x=lab_x / W, y=1 - mid / H,
                             textangle=-90, showarrow=False, xanchor="center", yanchor="middle",
                             font=dict(family="Liberation Sans", size=18, color="#222")))

# bottom time axis spine
shapes.append(dict(type="line", xref="x", x0=year_ticks[0], x1=year_ticks[-1], yref="y4 domain",
                   y0=0, y1=0, line=dict(color="black", width=1.4), layer="above"))

# event marker
shapes.append(dict(type="line", xref="x", x0=event_year, x1=event_year, yref="paper", y0=0, y1=1,
                   line=dict(color="#3cb043", width=4.5), layer="above"))

# highlight ellipse (pixel box converted to paper units)
ell = (947, 755, 1684, 871)
shapes.append(dict(type="circle", xref="paper", yref="paper",
                   x0=ell[0] / W, x1=ell[2] / W, y0=1 - ell[3] / H, y1=1 - ell[1] / H,
                   line=dict(color="#a49e97", width=4.5), layer="above"))


def arrow(tip, toward, arm=26, spread=35):
    tx, ty = tip
    fx, fy = toward
    ang = math.atan2(fy - ty, fx - tx)
    segs = [(tip, toward)]
    for s in (-spread, spread):
        a = ang + math.radians(s)
        segs.append((tip, (tx + arm * math.cos(a), ty + arm * math.sin(a))))
    out = []
    for (x0, y0), (x1, y1) in segs:
        out.append(dict(type="line", xref="paper", yref="paper",
                        x0=x0 / W, y0=1 - y0 / H, x1=x1 / W, y1=1 - y1 / H,
                        line=dict(color="#ff7f0f", width=4.5), layer="above"))
    return out


shapes += arrow((675, 782), (839, 1005))
shapes += arrow((677, 873), (839, 1005))

annotations.append(dict(text="Streamflow drought", xref="paper", yref="paper",
                        x=1050 / W, y=1 - 482 / H, showarrow=False, xanchor="center", yanchor="middle",
                        font=dict(family="Open Sans", size=62, color=TEAL)))
# heading of the panel pair above, mostly outside the page
annotations.append(dict(text="Meteorological drought", xref="paper", yref="paper",
                        x=498 / W, y=1 + 40 / H, showarrow=False, xanchor="center", yanchor="middle",
                        font=dict(family="Open Sans", size=62, color=TEAL)))

fig.update_layout(
    width=W, height=H, margin=dict(l=0, r=0, t=0, b=0),
    paper_bgcolor="white", plot_bgcolor="white", showlegend=False,
    xaxis=dict(domain=[90 / W, 1810 / W], range=[1986.933, 2014.729], anchor="y4",
               tickvals=year_ticks, ticktext=year_labels, ticks="outside", ticklen=13,
               tickwidth=1.4, tickcolor="black", ticklabelstandoff=6,
               tickfont=dict(family="Liberation Sans", size=20, color="#1c2233"),
               showgrid=False, zeroline=False, showline=False, fixedrange=True),
    shapes=shapes, annotations=annotations,
    **layout_axes,
)

fig.write_html("out.html", config={"displayModeBar": False})
